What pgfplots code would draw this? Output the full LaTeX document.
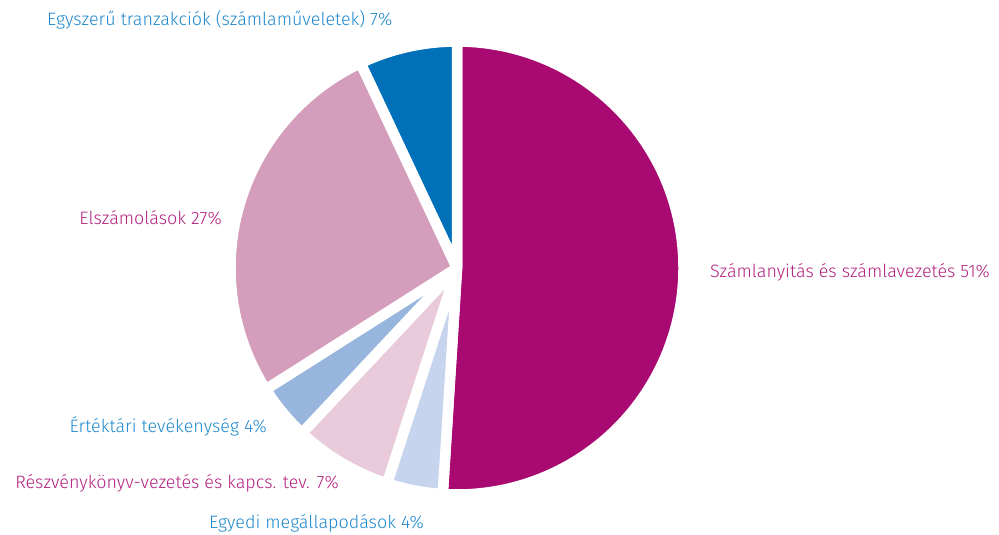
\documentclass[border=0pt]{standalone}
\usepackage{pgfplots}
\usepackage{pgfplotstable}
\pgfplotsset{compat=1.18}
\usepackage{fontspec}
\setmainfont{Fira Sans Light}
\definecolor{cA}{HTML}{A80A72}
\definecolor{cB}{HTML}{C6D4EE}
\definecolor{cC}{HTML}{E9CADB}
\definecolor{cD}{HTML}{98B5DE}
\definecolor{cE}{HTML}{D49DBB}
\definecolor{cF}{HTML}{0071B9}
\definecolor{lblue}{HTML}{1E88CC}
\definecolor{lmag}{HTML}{B3217F}
\pgfplotstableread{
value color
51 cA
4 cB
7 cC
4 cD
27 cE
7 cF
}\piedata
\begin{document}
\begin{tikzpicture}
\begin{axis}[
  width=999bp, height=534bp, scale only axis,
  xmin=0, xmax=999, ymin=0, ymax=534,
  hide axis, clip=false]
\path (axis cs:0,0) rectangle (axis cs:999,534);
\def\angA{90}
\pgfplotsforeachungrouped \i in {0,...,5}{%
  \pgfplotstablegetelem{\i}{value}\of\piedata \let\v\pgfplotsretval
  \pgfplotstablegetelem{\i}{color}\of\piedata \let\c\pgfplotsretval
  \pgfmathsetmacro\angB{\angA-3.6*\v}%
  \edef\temp{\noexpand\filldraw[fill=\c, draw=white, line width=10.5bp, line join=round] (axis cs:457,266) -- ++(\angA:226.5bp) arc[start angle=\angA, end angle=\angB, radius=226.5bp] -- cycle;}%
  \temp
  \global\let\angA\angB
}
\tikzset{lbl/.style={font=\fontsize{18}{21}\selectfont, inner sep=0pt}}
\node[lbl, lblue, anchor=west] at (axis cs:47,514) {Egyszerű tranzakciók (számlaműveletek) 7\%};
\node[lbl, lmag, anchor=east] at (axis cs:222,316) {Elszámolások 27\%};
\node[lbl, lmag, anchor=west] at (axis cs:710,262) {Számlanyitás és számlavezetés 51\%};
\node[lbl, lblue, anchor=east] at (axis cs:267,108) {Értéktári tevékenység 4\%};
\node[lbl, lmag, anchor=east] at (axis cs:339,51) {Részvénykönyv-vezetés és kapcs. tev. 7\%};
\node[lbl, lblue, anchor=east] at (axis cs:424,11) {Egyedi megállapodások 4\%};
\end{axis}
\end{tikzpicture}
\end{document}
